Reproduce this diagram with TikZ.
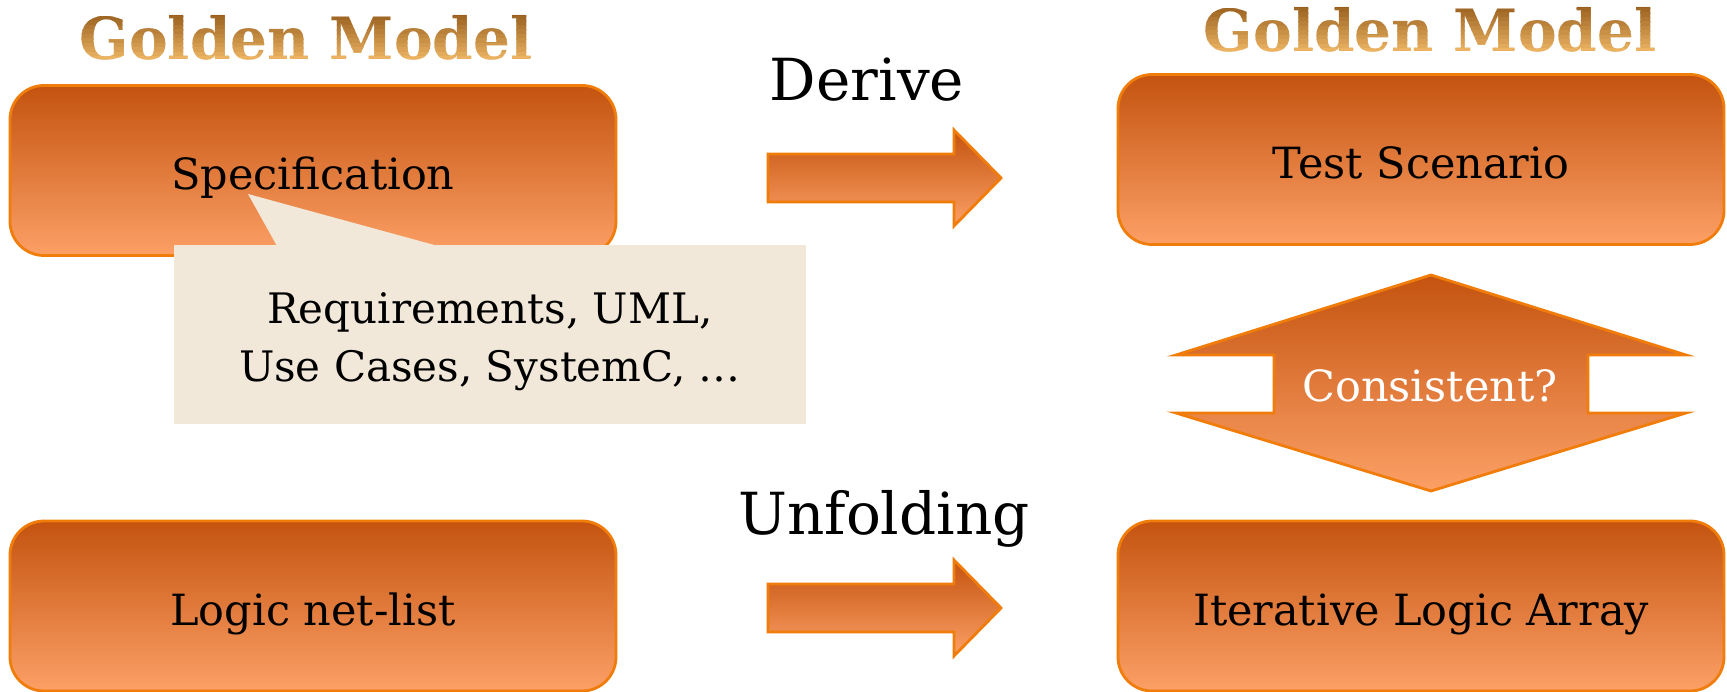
\documentclass[tikz,border=0pt]{standalone}
\usepackage{fontspec}
\setmainfont{DejaVu Serif}
\usetikzlibrary{positioning}

\definecolor{boxtop}{HTML}{C4530F}
\definecolor{boxbot}{HTML}{FCA066}
\definecolor{boxedge}{HTML}{F07C0A}
\definecolor{notefill}{HTML}{F2E8DA}
\definecolor{goldtop}{HTML}{985F1E}
\definecolor{goldbot}{HTML}{F2BA68}

\tikzset{
  model/.style={draw=boxedge, line width=2.8pt, rounded corners=34pt,
    top color=boxtop, bottom color=boxbot,
    minimum width=606pt, minimum height=170pt,
    text height=38pt, text depth=0pt,
    font=\fontsize{43}{50}\selectfont},
  golden/.style={font=\fontsize{58}{64}\selectfont\bfseries, anchor=base},
  verb/.style={font=\fontsize{58}{64}\selectfont, anchor=base},
  blockarrow/.style={draw=boxedge, line width=2.8pt, top color=boxtop, bottom color=boxbot},
  note/.style={fill=notefill, minimum width=632pt, minimum height=179pt},
  notetext/.style={align=center, font=\fontsize{42}{58}\selectfont}
}

% Schrift mit Farbverlauf: Streifen fuer Streifen
\newcommand{\goldtext}[4]{%
  \foreach \k in {0,...,11} {
    \pgfmathsetmacro{\mix}{100-\k*100/11}
    \begin{scope}
      \clip (#2-300,#3-48+\k*4.5) rectangle (#2+300,#3-48+\k*4.5+4.7);
      \node[golden, text=goldtop!\mix!goldbot] (#1-\k) at (#2,#3) {#4};
    \end{scope}
  }}

\begin{document}
\begin{tikzpicture}[x=1pt, y=-1pt]

\useasboundingbox (0,0) rectangle (1727,692);

% Ueberschriften
\goldtext{gmleft}{306}{60}{Golden Model}
\goldtext{gmright}{1430}{52}{Golden Model}

% Kaesten
\node[model] (spec) at (313,170.5) {Specification};
\node[model] (test) at (1421,159.5) {Test Scenario};
\node[model] (net) at (313,606) {Logic net-list};
\node[model] (ila) at (1421,606) {Iterative Logic Array};

% Sprechblase
\node[note] (note) at (490,334.5) {};
\coordinate (tip) at (248,194);
\fill[notefill] (277,246) -- (tip) -- (438,246) -- cycle;
\node[notetext] (reqs) at ([yshift=-7pt]note.center) {Requirements, UML,\\Use Cases, SystemC, …};

% Pfeile
\node[verb] (derive) at (867,101) {Derive};
\shade[blockarrow] (768,154) -- (954,154) -- (954,130) -- (1001,178)
  -- (954,226) -- (954,202) -- (768,202) -- cycle;

\node[verb] (unfold) at (884,534) {Unfolding};
\shade[blockarrow] (768,584) -- (954,584) -- (954,560) -- (1001,608)
  -- (954,656) -- (954,632) -- (768,632) -- cycle;

% Doppelpfeil
\shade[blockarrow] (1431,275) -- (1686,355) -- (1588,355) -- (1588,413)
  -- (1686,413) -- (1431,491) -- (1176,413) -- (1274,413) -- (1274,355)
  -- (1176,355) -- cycle;
\node[text=white, font=\fontsize{43}{50}\selectfont] (cons) at (1430,386) {Consistent?};

\end{tikzpicture}
\end{document}
